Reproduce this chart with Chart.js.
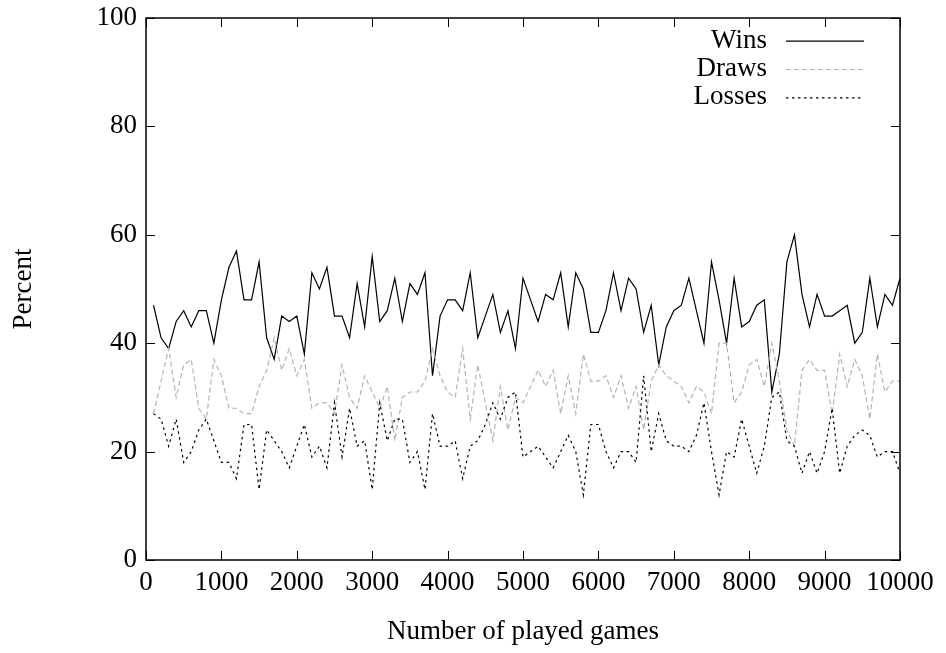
<!DOCTYPE html>
<html>
<head>
<meta charset="utf-8">
<script src="https://cdn.jsdelivr.net/npm/chart.js@4.4.0/dist/chart.umd.min.js"></script>
<style>
  html, body { margin: 0; padding: 0; background: #fff; }
  #chart { display: block; }
</style>
</head>
<body>
<canvas id="chart" width="946" height="653"></canvas>
<script>
// number of played games (x)
const games = [
  100, 200, 300, 400, 500, 600, 700, 800, 900, 1000,
  1100, 1200, 1300, 1400, 1500, 1600, 1700, 1800, 1900, 2000,
  2100, 2200, 2300, 2400, 2500, 2600, 2700, 2800, 2900, 3000,
  3100, 3200, 3300, 3400, 3500, 3600, 3700, 3800, 3900, 4000,
  4100, 4200, 4300, 4400, 4500, 4600, 4700, 4800, 4900, 5000,
  5100, 5200, 5300, 5400, 5500, 5600, 5700, 5800, 5900, 6000,
  6100, 6200, 6300, 6400, 6500, 6600, 6700, 6800, 6900, 7000,
  7100, 7200, 7300, 7400, 7500, 7600, 7700, 7800, 7900, 8000,
  8100, 8200, 8300, 8400, 8500, 8600, 8700, 8800, 8900, 9000,
  9100, 9200, 9300, 9400, 9500, 9600, 9700, 9800, 9900, 10000
];

const wins = [
  47, 41, 39, 44, 46, 43, 46, 46, 40, 48,
  54, 57, 48, 48, 55, 41, 37, 45, 44, 45,
  38, 53, 50, 54, 45, 45, 41, 51, 43, 56,
  44, 46, 52, 44, 51, 49, 53, 34, 45, 48,
  48, 46, 53, 41, 45, 49, 42, 46, 39, 52,
  48, 44, 49, 48, 53, 43, 53, 50, 42, 42,
  46, 53, 46, 52, 50, 42, 47, 36, 43, 46,
  47, 52, 46, 40, 55, 48, 40, 52, 43, 44,
  47, 48, 31, 38, 55, 60, 49, 43, 49, 45,
  45, 46, 47, 40, 42, 52, 43, 49, 47, 52
];

const draws = [
  27, 33, 39, 30, 36, 37, 28, 26, 37, 34,
  28, 28, 27, 27, 32, 35, 41, 35, 39, 34,
  37, 28, 29, 29, 27, 36, 30, 28, 34, 31,
  28, 32, 22, 30, 31, 31, 33, 39, 34, 31,
  30, 39, 26, 36, 29, 22, 32, 24, 30, 29,
  32, 35, 32, 35, 27, 34, 27, 38, 33, 33,
  34, 30, 34, 28, 32, 24, 33, 36, 34, 33,
  32, 29, 32, 31, 27, 40, 40, 29, 31, 36,
  37, 32, 40, 33, 24, 21, 35, 37, 35, 35,
  27, 38, 32, 37, 34, 26, 38, 31, 33, 33
];

const losses = [
  27, 26, 21, 26, 18, 20, 24, 26, 22, 18,
  18, 15, 25, 25, 13, 24, 22, 20, 17, 21,
  25, 19, 21, 17, 29, 19, 28, 21, 22, 13,
  29, 22, 26, 26, 18, 20, 13, 27, 21, 21,
  22, 15, 21, 22, 25, 29, 26, 30, 31, 19,
  20, 21, 19, 17, 20, 23, 20, 12, 25, 25,
  20, 17, 20, 20, 18, 34, 20, 27, 22, 21,
  21, 20, 23, 29, 20, 12, 20, 19, 26, 21,
  16, 21, 30, 31, 22, 21, 16, 20, 16, 20,
  28, 16, 21, 23, 24, 23, 19, 20, 20, 16
];

const xTicks = [0, 1000, 2000, 3000, 4000, 5000, 6000, 7000, 8000, 9000, 10000];
const yTicks = [0, 20, 40, 60, 80, 100];

const font = { family: "'Liberation Serif', 'DejaVu Serif', serif", size: 27 };

function points(values) {
  return games.map((g, i) => ({ x: g, y: values[i] }));
}

// gnuplot style frame with inward ticks on all four sides
const framePlugin = {
  id: 'frame',
  afterDatasetsDraw(chart) {
    const { ctx, chartArea: a, scales: { x, y } } = chart;
    ctx.save();
    ctx.strokeStyle = '#000';
    ctx.lineWidth = 1;
    ctx.beginPath();
    x.ticks.forEach(t => {
      const px = Math.round(x.getPixelForValue(t.value)) + 0.5;
      ctx.moveTo(px, a.bottom); ctx.lineTo(px, a.bottom - 9);
      ctx.moveTo(px, a.top); ctx.lineTo(px, a.top + 9);
    });
    y.ticks.forEach(t => {
      const py = Math.round(y.getPixelForValue(t.value)) + 0.5;
      ctx.moveTo(a.left, py); ctx.lineTo(a.left + 9, py);
      ctx.moveTo(a.right, py); ctx.lineTo(a.right - 9, py);
    });
    ctx.stroke();
    ctx.lineWidth = 1.5;
    ctx.strokeRect(a.left, a.top, a.width, a.height);
    ctx.restore();
  }
};

// key in the top right corner: label, then line sample
const keyPlugin = {
  id: 'key',
  afterDraw(chart) {
    const { ctx, chartArea: a } = chart;
    ctx.save();
    ctx.font = font.size + 'px ' + font.family;
    ctx.textAlign = 'right';
    ctx.textBaseline = 'middle';
    chart.data.datasets.forEach((ds, i) => {
      const yy = a.top + 22.7 + i * 28.3;
      ctx.fillStyle = '#000';
      ctx.fillText(ds.label, a.right - 133, yy);
      ctx.strokeStyle = ds.borderColor;
      ctx.lineWidth = ds.borderWidth;
      ctx.setLineDash(ds.borderDash || []);
      ctx.beginPath();
      ctx.moveTo(a.right - 114, yy + 0.5);
      ctx.lineTo(a.right - 36, yy + 0.5);
      ctx.stroke();
    });
    ctx.restore();
  }
};

new Chart(document.getElementById('chart'), {
  type: 'line',
  data: {
    datasets: [
      { label: 'Wins', data: points(wins), borderColor: '#000', borderWidth: 1.2, order: 2 },
      { label: 'Draws', data: points(draws), borderColor: '#b4b4b4', borderWidth: 1.2, borderDash: [5, 3], order: 1 },
      { label: 'Losses', data: points(losses), borderColor: '#000', borderWidth: 1.2, borderDash: [2.5, 3.5], order: 0 }
    ]
  },
  options: {
    responsive: false,
    animation: false,
    devicePixelRatio: 1,
    layout: { padding: { top: 18, right: 46, left: 0, bottom: 0 } },
    plugins: { legend: { display: false }, tooltip: { enabled: false } },
    elements: { point: { radius: 0 }, line: { tension: 0, fill: false } },
    scales: {
      x: {
        type: 'linear',
        min: 0,
        max: 10000,
        grid: { display: false, drawTicks: false },
        border: { display: false },
        afterBuildTicks: s => { s.ticks = xTicks.map(v => ({ value: v })); },
        ticks: { color: '#000', font, padding: 7, maxRotation: 0, autoSkip: false, callback: v => String(v) },
        title: { display: true, text: 'Number of played games', color: '#000', font, padding: { top: 0, bottom: 5 } },
        afterFit: s => { s.height = 93; s.paddingLeft = 0; s.paddingRight = 0; }
      },
      y: {
        min: 0,
        max: 100,
        grid: { display: false, drawTicks: false },
        border: { display: false },
        afterBuildTicks: s => { s.ticks = yTicks.map(v => ({ value: v })); },
        ticks: { color: '#000', font, padding: 9, autoSkip: false, callback: v => String(v) },
        title: { display: true, text: 'Percent', color: '#000', font, padding: { top: 8, bottom: 0 } },
        afterFit: s => { s.width = 146; s.paddingTop = 0; s.paddingBottom = 0; }
      }
    }
  },
  plugins: [framePlugin, keyPlugin]
});
</script>
</body>
</html>
